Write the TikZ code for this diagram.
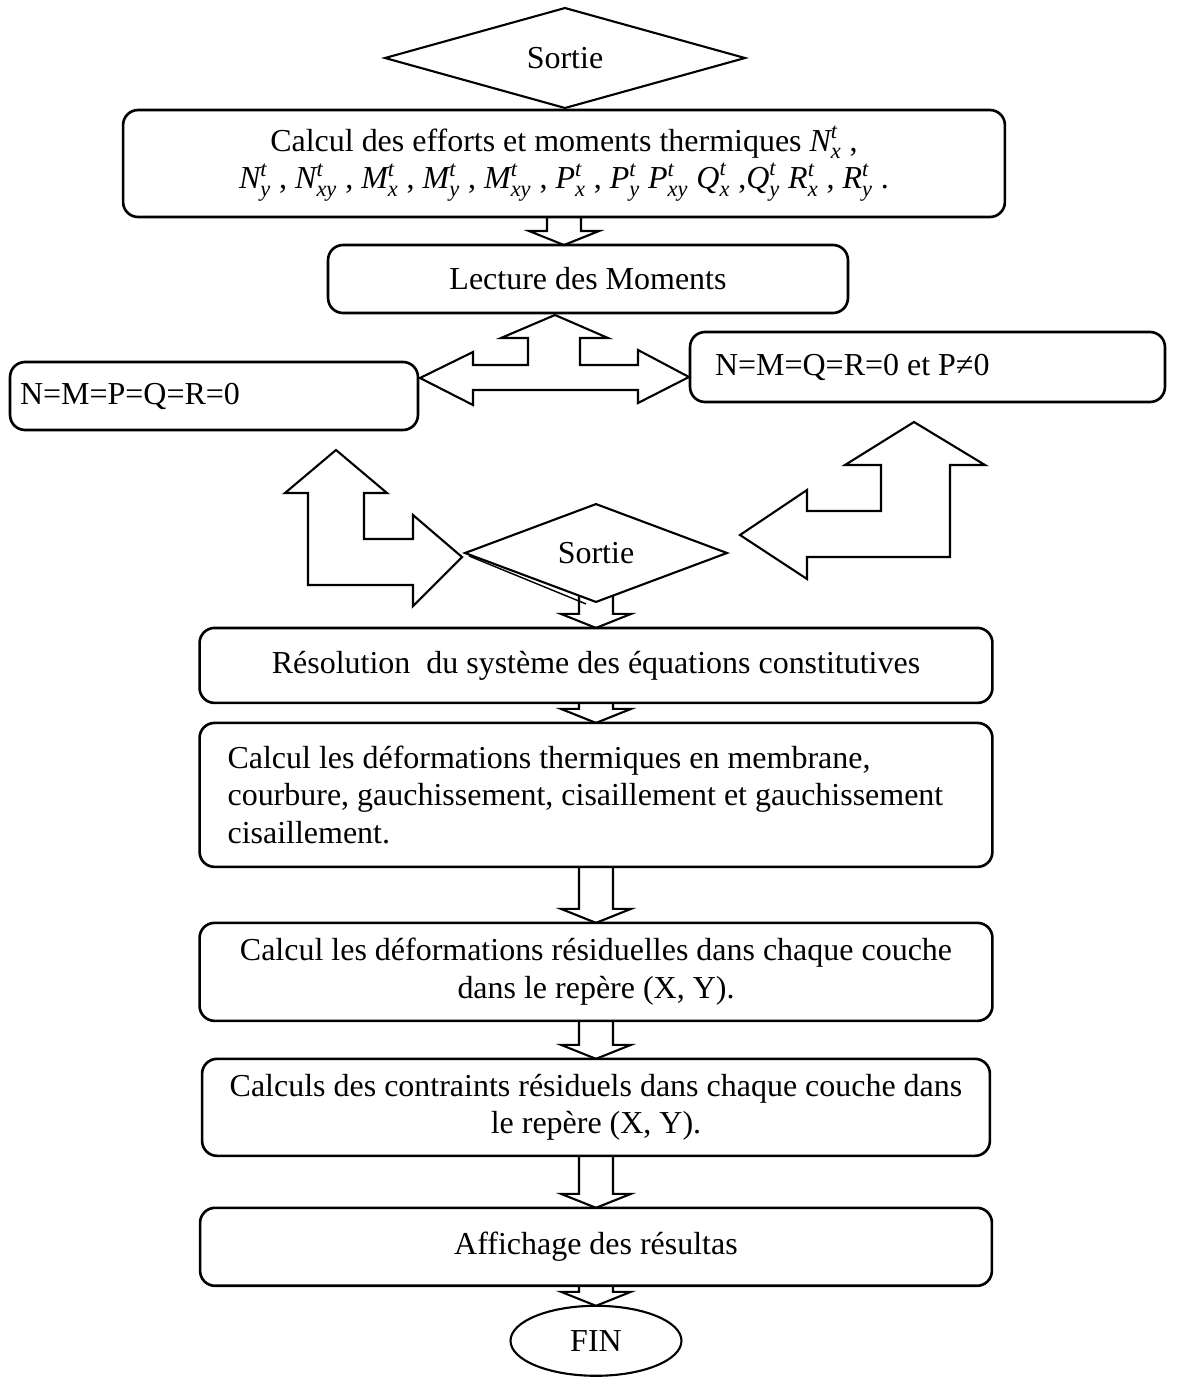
\documentclass[tikz,border=0pt]{standalone}
\usepackage{amsmath}
\usepackage{fontspec}
\setmainfont{Liberation Serif}
\usepackage{tikz}
\usetikzlibrary{shapes}
\usetikzlibrary{positioning}
\usetikzlibrary{calc}
\tikzstyle{process} = [rectangle,draw,rounded corners=0.3cm,line width=1.5pt,align=center,inner sep=0pt,outer sep=0pt]
\tikzstyle{decision} = [diamond,draw,line width=1.2pt,align=center,inner sep=0pt,outer sep=0pt]
\tikzstyle{terminal} = [ellipse,draw,line width=1.2pt,inner sep=0pt,outer sep=0pt]
\newcommand{\ThermEff}[2]{\ensuremath{\textit{#1}^{\textit{t}}_{\textit{#2}}}}
\newcommand{\BlockDown}[3][0]{%
	\draw[blockarrow] ($(#2)+(-17,-#1)$) -- ($(#2 |- #3)+(-17,-14)$) -- ($(#2 |- #3)+(-35,-14)$) -- (#2 |- #3)
		-- ($(#2 |- #3)+(35,-14)$) -- ($(#2 |- #3)+(17,-14)$) -- ($(#2)+(17,-#1)$);}

\begin{document}
\begin{tikzpicture}[x=0.02cm,y=-0.02cm,font=\fontsize{18.2}{21.5}\selectfont,node distance=1cm]
	
	\tikzstyle{blockarrow}=[line width=1.2pt,line join=miter];
	
	\useasboundingbox (0,0) rectangle (1177,1387);
	
	\node (sortie1) [decision,minimum width=7.2cm,minimum height=2cm] at (565,58) {Sortie};
	\node (efforts) [process,minimum width=17.64cm,minimum height=2.14cm] at (564,163.5)
		{Calcul des efforts et moments thermiques \ThermEff{N}{x} ,\\
		 \ThermEff{N}{y} , \ThermEff{N}{xy} , \ThermEff{M}{x} , \ThermEff{M}{y} , \ThermEff{M}{xy} , \ThermEff{P}{x} , \ThermEff{P}{y} \ThermEff{P}{xy} \ThermEff{Q}{x} ,\ThermEff{Q}{y} \ThermEff{R}{x} , \ThermEff{R}{y} .};
	\node (lecture) [process,minimum width=10.4cm,minimum height=1.36cm] at (588,279) {Lecture des Moments};
	\node (nul) [process,align=flush left,text width=7.76cm,inner xsep=0.2cm,minimum height=1.36cm] at (214,396) {N=M=P=Q=R=0};
	\node (pnonnul) [process,align=flush left,text width=8.5cm,inner xsep=0.5cm,minimum height=1.4cm] at (927.5,367) {N=M=Q=R=0 et P≠0};
	\node (sortie2) [decision,minimum width=5.24cm,minimum height=1.92cm] at (596,553) {Sortie};
	\node (resol) [process,below=0.52cm of sortie2,minimum width=15.86cm,minimum height=1.5cm] {Résolution~ du système des équations constitutives};
	\node (deftherm) [process,below=0.4cm of resol,align=flush left,text width=14.74cm,inner xsep=0.56cm,minimum height=2.88cm]
		{Calcul les déformations thermiques en membrane,\\
		 courbure, gauchissement, cisaillement et gauchissement\\
		 cisaillement.};
	\node (defres) [process,below=1.12cm of deftherm,minimum width=15.86cm,minimum height=1.96cm]
		{Calcul les déformations résiduelles dans chaque couche\\ dans le repère (X, Y).};
	\node (contr) [process,below=0.76cm of defres,minimum width=15.76cm,minimum height=1.94cm]
		{Calculs des contraints résiduels dans chaque couche dans\\ le repère (X, Y).};
	\node (affich) [process,below=1.04cm of contr,minimum width=15.84cm,minimum height=1.56cm] {Affichage des résultas};
	\node (fin) [terminal,below=0.4cm of affich,minimum width=3.42cm,minimum height=1.4cm] {FIN};
	
	% double line on the lower left side of the second decision
	\draw[line width=0.8pt] ($(sortie2.west)+(4,3)$) -- ($(sortie2.south)+(-10,2)$);
	
	% hollow block arrows
	\BlockDown{efforts.south}{lecture.north}
	\BlockDown[6]{sortie2.south}{resol.north}
	\BlockDown{resol.south}{deftherm.north}
	\BlockDown{deftherm.south}{defres.north}
	\BlockDown{defres.south}{contr.north}
	\BlockDown{contr.south}{affich.north}
	\BlockDown{affich.south}{fin.north}
	
	\draw[blockarrow] (420,378) -- (473,352) -- (473,365) -- (528,365) -- (528,338) -- (501,338) -- (555,315)
		-- (608,338) -- (580,338) -- (580,365) -- (638,365) -- (638,350) -- (689,377) -- (638,403)
		-- (638,390) -- (473,390) -- (473,405) -- cycle;
	\draw[blockarrow] (336,450) -- (387,493) -- (364,493) -- (364,539) -- (413,539) -- (413,515) -- (462,557)
		-- (413,606) -- (413,585) -- (308,585) -- (308,493) -- (285,493) -- cycle;
	\draw[blockarrow] (914,422) -- (985,465) -- (950,465) -- (950,557) -- (807,557) -- (807,579) -- (740,535)
		-- (807,490) -- (807,511) -- (881,511) -- (881,465) -- (845,465) -- cycle;
\end{tikzpicture}
\end{document}
